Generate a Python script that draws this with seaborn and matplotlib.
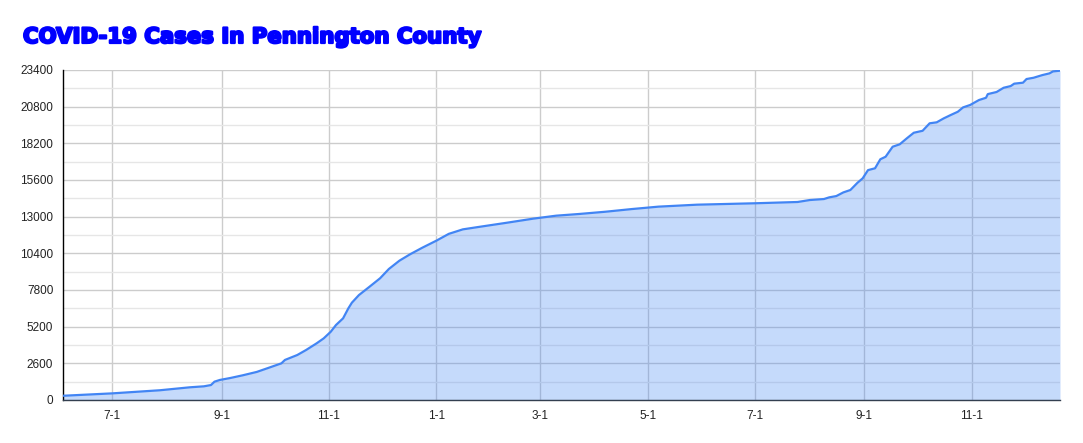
import pandas as pd
import matplotlib
matplotlib.use('Agg')
import matplotlib.pyplot as plt
import matplotlib.dates as mdates
import matplotlib.patheffects as pe
from matplotlib.ticker import FuncFormatter, MultipleLocator
import seaborn as sns

# cumulative cases
dates = [
    '2020-06-03', '2020-07-01', '2020-07-28', '2020-08-14', '2020-08-22',
    '2020-08-26', '2020-08-28', '2020-08-31', '2020-09-06', '2020-09-13',
    '2020-09-21', '2020-09-27', '2020-10-05', '2020-10-07', '2020-10-14',
    '2020-10-19', '2020-10-25', '2020-10-29', '2020-11-02', '2020-11-05',
    '2020-11-09', '2020-11-12', '2020-11-14', '2020-11-18', '2020-11-24',
    '2020-11-30', '2020-12-05', '2020-12-11', '2020-12-17', '2020-12-24',
    '2021-01-01', '2021-01-08', '2021-01-16', '2021-01-26', '2021-02-10',
    '2021-02-25', '2021-03-10', '2021-03-23', '2021-04-07', '2021-04-22',
    '2021-05-07', '2021-05-29', '2021-07-01', '2021-07-25', '2021-08-01',
    '2021-08-09', '2021-08-12', '2021-08-16', '2021-08-20', '2021-08-24',
    '2021-08-28', '2021-08-31', '2021-09-03', '2021-09-07', '2021-09-10',
    '2021-09-13', '2021-09-17', '2021-09-21', '2021-09-25', '2021-09-29',
    '2021-10-04', '2021-10-08', '2021-10-12', '2021-10-16', '2021-10-20',
    '2021-10-24', '2021-10-27', '2021-10-31', '2021-11-05', '2021-11-09',
    '2021-11-10', '2021-11-15', '2021-11-19', '2021-11-23', '2021-11-25',
    '2021-11-30', '2021-12-02', '2021-12-06', '2021-12-11', '2021-12-15',
    '2021-12-17', '2021-12-21',
]
cases = [
    300, 470, 690, 900, 970,
    1060, 1300, 1420, 1560, 1750,
    1990, 2250, 2600, 2840, 3190,
    3545, 4020, 4370, 4840, 5320,
    5790, 6500, 6900, 7440, 8030,
    8630, 9290, 9880, 10330, 10800,
    11300, 11780, 12100, 12290, 12570,
    12860, 13070, 13190, 13350, 13540,
    13710, 13850, 13950, 14040, 14180,
    14250, 14370, 14460, 14720, 14890,
    15400, 15720, 16300, 16430, 17070,
    17250, 17960, 18130, 18550, 18950,
    19090, 19620, 19690, 19970, 20210,
    20440, 20750, 20920, 21270, 21430,
    21690, 21840, 22140, 22260, 22430,
    22500, 22760, 22850, 23040, 23160,
    23300, 23350,
]
y_ticks = list(range(0, 23401, 2600))

df = pd.DataFrame({'date': pd.to_datetime(dates), 'cases': cases})

sns.set_style('white')
plt.rcParams['font.family'] = ['Liberation Sans', 'DejaVu Sans']

fig = plt.figure(figsize=(10.83, 4.43), dpi=100)
ax = fig.add_axes([63 / 1083, 43 / 443, 997 / 1083, 330 / 443])

line_color = '#4285f4'
ax.fill_between(df['date'], df['cases'], 0, color=line_color, alpha=0.3,
                linewidth=0, zorder=2)
sns.lineplot(data=df, x='date', y='cases', ax=ax, color=line_color,
             linewidth=1.6, zorder=3)

ax.set_xlim(df['date'].iloc[0], df['date'].iloc[-1])
ax.set_ylim(0, 23400)
ax.set_yticks(y_ticks)
ax.yaxis.set_minor_locator(MultipleLocator(1300))
ax.xaxis.set_major_locator(mdates.MonthLocator(bymonth=[1, 3, 5, 7, 9, 11]))
ax.xaxis.set_major_formatter(FuncFormatter(
    lambda v, pos: '{}-{}'.format(mdates.num2date(v).month,
                                  mdates.num2date(v).day)))

ax.grid(which='major', axis='both', color='#cccccc', linewidth=1, zorder=1)
ax.grid(which='minor', axis='y', color='#e6e6e6', linewidth=1, zorder=1)
ax.set_axisbelow(True)

ax.tick_params(axis='both', which='both', length=0, labelsize=8.5,
               colors='#222222')
ax.tick_params(axis='y', pad=7)
ax.tick_params(axis='x', pad=7)

for side in ['top', 'right']:
    ax.spines[side].set_visible(False)
ax.spines['left'].set_color('#000000')
ax.spines['left'].set_linewidth(1)
ax.spines['bottom'].set_color('#333f50')
ax.spines['bottom'].set_linewidth(1)

ax.set_xlabel('')
ax.set_ylabel('')

# heavy title, thickened with a stroke to look like Arial Black
fig.text(23 / 1083, 1 - 37 / 443, 'COVID-19 Cases In Pennington County',
         color='#0000ff', fontsize=15.3, fontweight='heavy',
         family=['DejaVu Sans'], va='center', ha='left',
         path_effects=[pe.withStroke(linewidth=1.6, foreground='#0000ff')])

fig.savefig('out.png', dpi=100)
